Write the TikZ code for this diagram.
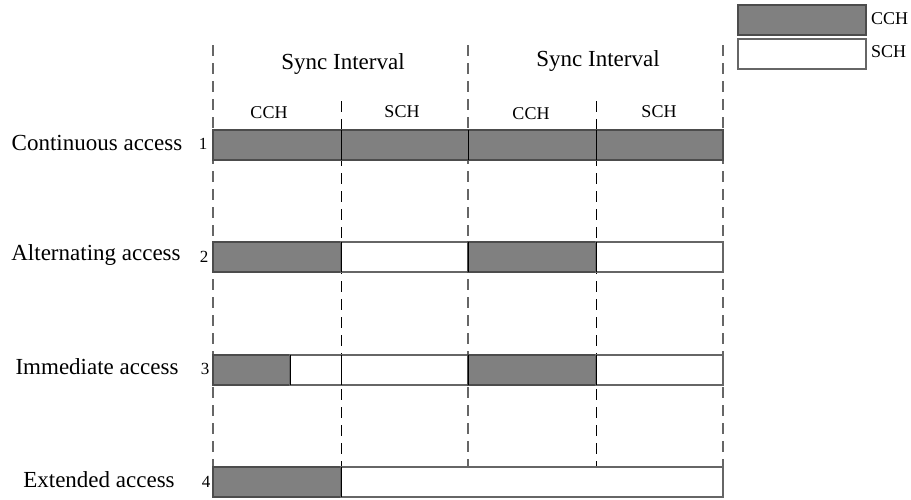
\documentclass[tikz,border=0pt]{standalone}
\usepackage{fontspec}
\setmainfont{Liberation Serif}
\begin{document}
\begin{tikzpicture}[x=1pt,y=-1pt,
  bigtxt/.style={font=\fontsize{23}{27}\selectfont, inner sep=0pt},
  smalltxt/.style={font=\fontsize{18}{21}\selectfont, inner sep=0pt},
  numtxt/.style={font=\fontsize{17}{20}\selectfont, inner sep=0pt},
  longdash/.style={draw=black!60, line width=1.3pt, dash pattern=on 11pt off 7pt},
  shortdash/.style={draw=black, line width=1pt, dash pattern=on 11pt off 7pt},
  cchbar/.style={fill=black!50, draw=black!70, line width=1.4pt},
  schbar/.style={fill=white, draw=black!60, line width=1.4pt},
  divider/.style={draw=black, line width=1pt}
]
\useasboundingbox (0,0) rectangle (911,499);

% dashed guide lines
\draw[longdash] (213,45) -- (213,497);
\draw[longdash] (468,45) -- (468,467);
\draw[longdash] (723,45) -- (723,497);
\draw[shortdash] (341,101) -- (341,467);
\draw[shortdash] (596,101) -- (596,467);

% Row 1: continuous
\draw[cchbar] (213,130) rectangle (723,160);
\draw[divider] (341,130) -- (341,160);
\draw[divider] (468,130) -- (468,160);
\draw[divider] (596,130) -- (596,160);

% Row 2: alternating
\draw[cchbar] (213,242) rectangle (341,272);
\draw[schbar] (341,242) rectangle (468,272);
\draw[cchbar] (468,242) rectangle (596,272);
\draw[schbar] (596,242) rectangle (723,272);
\draw[divider] (341,242) -- (341,272);
\draw[divider] (468,242) -- (468,272);
\draw[divider] (596,242) -- (596,272);

% Row 3: immediate
\draw[cchbar] (213,355) rectangle (290,385);
\draw[schbar] (290,355) rectangle (468,385);
\draw[cchbar] (468,355) rectangle (596,385);
\draw[schbar] (596,355) rectangle (723,385);
\draw[divider] (290,355) -- (290,385);
\draw[divider] (341,355) -- (341,385);
\draw[divider] (468,355) -- (468,385);
\draw[divider] (596,355) -- (596,385);

% Row 4: extended
\draw[cchbar] (213,467) rectangle (341,497);
\draw[schbar] (341,467) rectangle (723,497);
\draw[divider] (341,467) -- (341,497);

% Legend
\draw[cchbar, line width=1.2pt] (738,5) rectangle (866,35);
\draw[schbar, line width=1.2pt] (738,39) rectangle (866,69);
\node[smalltxt, anchor=west] (lcch) at (871,19) {CCH};
\node[smalltxt, anchor=west] (lsch) at (871,52) {SCH};

% headers
\node[bigtxt] (si1) at (343,64) {Sync Interval};
\node[bigtxt] (si2) at (598,61) {Sync Interval};
\node[smalltxt] (c1) at (269,113) {CCH};
\node[smalltxt] (s1) at (402,112) {SCH};
\node[smalltxt] (c2) at (531,114) {CCH};
\node[smalltxt] (s2) at (659,112) {SCH};

% row labels
\node[bigtxt] (r1) at (97,143) {Continuous access};
\node[bigtxt] (r2) at (96,255) {Alternating access};
\node[bigtxt] (r3) at (97,367) {Immediate access};
\node[bigtxt] (r4) at (99,480) {Extended access};
\node[numtxt] (n1) at (203,144) {1};
\node[numtxt] (n2) at (204,257) {2};
\node[numtxt] (n3) at (205,369) {3};
\node[numtxt] (n4) at (206,482) {4};
\end{tikzpicture}
\end{document}
